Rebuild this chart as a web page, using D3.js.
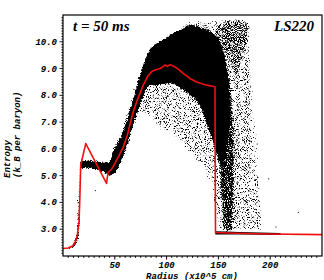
<!DOCTYPE html>
<html>
<head>
<meta charset="utf-8">
<script src="https://cdn.jsdelivr.net/npm/d3@7"></script>
<style>
body { margin: 0; background: #fff; }
</style>
</head>
<body>
<div id="chart"></div>
<script>
// mean entropy profile (red line)
var profR = [0, 5, 9, 11.3, 13.5, 14.5, 15.5, 16.2, 17.1, 22, 42, 43.5, 47, 50, 54, 58, 62, 67.7, 72, 77.4, 82, 85.5, 89, 93.5, 96, 98.4, 101, 103, 105, 108, 112, 116, 122.5, 129, 134, 138.7, 146.7, 147.2, 160, 175, 200, 250];
var profS = [2.28, 2.3, 2.37, 2.47, 2.7, 2.97, 3.3, 4.1, 5.4, 6.2, 4.71, 5.12, 5.25, 5.45, 5.75, 6.05, 6.5, 7.38, 7.85, 8.38, 8.72, 8.88, 8.95, 9.0, 9.05, 9.13, 9.08, 9.14, 9.12, 9.06, 8.95, 8.82, 8.63, 8.5, 8.43, 8.38, 8.32, 2.88, 2.86, 2.84, 2.82, 2.8];

// particle cloud: dense core envelope
var denseR  = [0, 6, 10, 12, 13.5, 14.5, 15.5, 16.5, 17.5, 20, 30, 40, 44, 46, 48, 52, 56, 60, 64, 68, 72, 76, 80, 84, 88, 95, 103, 110, 116, 122, 127, 132, 136, 140, 145, 150, 153, 156, 158, 160, 161.5];
var denseLo = [2.24, 2.27, 2.33, 2.4, 2.5, 2.6, 2.9, 3.6, 5.2, 5.3, 5.25, 5.1, 5.0, 5.0, 5.05, 5.2, 5.5, 5.9, 6.35, 6.9, 7.4, 7.8, 8.2, 8.4, 8.35, 8.4, 8.45, 8.35, 8.2, 8.0, 7.9, 7.6, 7.2, 6.8, 6.2, 5.6, 5.3, 5.5, 6.0, 6.6, 7.3];
var denseHi = [2.31, 2.34, 2.48, 2.65, 3.0, 3.8, 4.8, 5.45, 5.58, 5.58, 5.55, 5.5, 5.5, 5.6, 5.9, 6.2, 6.5, 6.9, 7.4, 7.9, 8.5, 9.0, 9.4, 9.75, 9.9, 10.05, 10.25, 10.4, 10.5, 10.65, 10.62, 10.55, 10.5, 10.45, 10.3, 10.15, 9.9, 9.5, 9.1, 8.4, 7.6];

// particle cloud: column behind the shock
var colR  = [148, 151, 153, 156, 160, 163, 165, 167];
var colLo = [6.0, 4.0, 2.9, 2.86, 2.86, 2.86, 2.9, 4.0];
var colHi = [9.5, 9.8, 9.8, 9.5, 9.0, 8.6, 8.0, 6.5];

// particle cloud: upper right fringe
var fringeR  = [145, 150, 155, 160, 166, 172, 178, 182];
var fringeLo = [10.0, 9.7, 9.4, 9.0, 8.6, 8.8, 9.6, 10.3];
var fringeHi = [10.6, 10.75, 10.85, 10.9, 10.92, 10.92, 10.9, 10.85];

// particle cloud: sparse outer envelope
var sparseR  = [45, 50, 55, 60, 66, 72, 78, 85, 92, 100, 110, 118, 125, 132, 140, 147, 150, 170, 181, 184, 188, 192, 196];
var sparseLo = [5.0, 5.05, 5.4, 5.8, 6.4, 6.9, 7.2, 7.0, 6.6, 6.5, 6.2, 5.8, 5.5, 5.2, 4.5, 3.0, 2.85, 2.85, 2.85, 2.85, 2.85, 2.85, 2.85];
var sparseHi = [5.7, 6.4, 7.0, 7.6, 8.4, 9.0, 9.6, 10.0, 10.2, 10.4, 10.6, 10.8, 10.9, 10.9, 10.9, 10.95, 10.95, 10.95, 10.9, 9.5, 7.5, 5.0, 3.2];

// post-shock thin layer
var tailR  = [147, 170, 210];
var tailLo = [2.8, 2.8, 2.78];
var tailHi = [2.92, 2.9, 2.86];

// isolated particles
var strayR = [30.7, 198, 226.7, 14.2, 187, 205];
var strayS = [4.46, 4.9, 3.65, 3.4, 6.2, 3.1];

var yTicks = [3, 4, 5, 6, 7, 8, 9, 10];
var xTicks = [50, 100, 150, 200];

var W = 324, H = 280;
var margin = {left: 63, top: 15, right: 2, bottom: 24};
var iw = W - margin.left - margin.right,
	ih = H - margin.top - margin.bottom;

var svg = d3.select("#chart")
	.append("svg")
	.attr("width", W)
	.attr("height", H);

var x = d3.scaleLinear().domain([0, 250]).range([0, iw]);
var y = d3.scaleLinear().domain([2, 11]).range([ih, 0]);

var defs = svg.append("defs");
defs.append("clipPath").attr("id", "clip")
	.append("rect").attr("width", iw).attr("height", ih);

// speckle texture: blurred shape + noise, thresholded -> fuzzy grainy edges
function speckle(id, t, seed, blur) {
	var f = defs.append("filter").attr("id", id)
		.attr("color-interpolation-filters", "sRGB")
		.attr("x", "-20%").attr("y", "-20%").attr("width", "140%").attr("height", "140%");
	f.append("feGaussianBlur").attr("in", "SourceAlpha")
		.attr("stdDeviation", blur).attr("result", "b");
	f.append("feTurbulence").attr("type", "fractalNoise")
		.attr("baseFrequency", 1.1).attr("numOctaves", 2)
		.attr("seed", seed).attr("result", "n");
	f.append("feColorMatrix").attr("in", "n").attr("type", "matrix")
		.attr("values", "0 0 0 0 0  0 0 0 0 0  0 0 0 0 0  1 0 0 0 0")
		.attr("result", "na");
	f.append("feComposite").attr("in", "b").attr("in2", "na")
		.attr("operator", "arithmetic")
		.attr("k1", 0).attr("k2", 0.5).attr("k3", 0.5).attr("k4", 0)
		.attr("result", "s");
	var ct = f.append("feComponentTransfer").attr("in", "s");
	ct.append("feFuncA").attr("type", "linear")
		.attr("slope", 16).attr("intercept", -16 * t);
}
speckle("spDense", 0.5, 2, 1.6);
speckle("spCol", 0.67, 5, 2.2);
speckle("spFringe", 0.73, 7, 2.5);
speckle("spSparse", 0.775, 9, 3);

var g = svg.append("g")
	.attr("transform", "translate(" + margin.left + "," + margin.top + ")");
var plot = g.append("g").attr("clip-path", "url(#clip)");

function band(r, lo, hi) {
	var rows = r.map(function(v, i) { return [v, lo[i], hi[i]]; });
	return d3.area()
		.curve(d3.curveMonotoneX)
		.x(function(d) { return x(d[0]); })
		.y0(function(d) { return y(d[1]); })
		.y1(function(d) { return y(d[2]); })(rows);
}

plot.append("path").attr("d", band(sparseR, sparseLo, sparseHi))
	.attr("fill", "#000").attr("filter", "url(#spSparse)");
plot.append("path").attr("d", band(fringeR, fringeLo, fringeHi))
	.attr("fill", "#000").attr("filter", "url(#spFringe)");
plot.append("path").attr("d", band(colR, colLo, colHi))
	.attr("fill", "#000").attr("filter", "url(#spCol)");
plot.append("path").attr("d", band(denseR, denseLo, denseHi))
	.attr("fill", "#000").attr("filter", "url(#spDense)");
plot.append("path").attr("d", band(tailR, tailLo, tailHi))
	.attr("fill", "#000");

plot.selectAll("rect.stray")
	.data(strayR.map(function(v, i) { return [v, strayS[i]]; }))
	.enter().append("rect")
	.attr("class", "stray")
	.attr("x", function(d) { return x(d[0]); })
	.attr("y", function(d) { return y(d[1]); })
	.attr("width", 1).attr("height", 1)
	.attr("fill", "#000");

var line = d3.line()
	.x(function(d) { return x(d[0]); })
	.y(function(d) { return y(d[1]); });
plot.append("path")
	.attr("d", line(profR.map(function(v, i) { return [v, profS[i]]; })))
	.attr("fill", "none")
	.attr("stroke", "#f01010")
	.attr("stroke-width", 1.6)
	.attr("stroke-linejoin", "round");

// frame
g.append("rect").attr("width", iw).attr("height", ih)
	.attr("fill", "none").attr("stroke", "#000").attr("stroke-width", 1.2);

var tickFont = "'Liberation Mono', 'DejaVu Sans Mono', monospace";

// ticks
var xAxis = g.append("g").attr("transform", "translate(0," + ih + ")");
xAxis.selectAll("line.minor").data(d3.range(5, 250, 5)).enter()
	.append("line")
	.attr("x1", function(d) { return x(d); }).attr("x2", function(d) { return x(d); })
	.attr("y1", 0).attr("y2", function(d) { return d % 50 === 0 ? 3.5 : 1.8; })
	.attr("stroke", "#000").attr("stroke-width", 1);
xAxis.selectAll("text").data(xTicks).enter().append("text")
	.attr("x", function(d) { return x(d); })
	.attr("y", 11.5)
	.attr("text-anchor", "middle")
	.style("font-family", tickFont).style("font-weight", "bold").style("font-style", "italic")
	.style("font-size", "9px")
	.text(function(d) { return d; });

var yAxis = g.append("g");
yAxis.selectAll("line.minor").data(d3.range(21, 110, 1)).enter()
	.append("line")
	.attr("x1", 0).attr("x2", function(d) { return d % 10 === 0 ? -3.5 : -1.6; })
	.attr("y1", function(d) { return y(d / 10); }).attr("y2", function(d) { return y(d / 10); })
	.attr("stroke", "#000").attr("stroke-width", 0.9);
yAxis.selectAll("text").data(yTicks).enter().append("text")
	.attr("x", -6)
	.attr("y", function(d) { return y(d) + 3; })
	.attr("text-anchor", "end")
	.style("font-family", tickFont).style("font-weight", "bold").style("font-style", "italic")
	.style("font-size", "9px")
	.text(d3.format(".1f"));

// axis titles
svg.append("text")
	.attr("x", 192).attr("y", 278.5)
	.attr("text-anchor", "middle")
	.style("font-family", tickFont).style("font-weight", "bold").style("font-style", "italic")
	.style("font-size", "9px")
	.text("Radius (x10^5 cm)");
svg.append("text")
	.attr("transform", "translate(10,178) rotate(-90)")
	.style("font-family", tickFont).style("font-weight", "bold").style("font-style", "italic")
	.style("font-size", "9px")
	.text("Entropy");
svg.append("text")
	.attr("transform", "translate(20,178) rotate(-90)")
	.style("font-family", tickFont).style("font-weight", "bold").style("font-style", "italic")
	.style("font-size", "9px")
	.text("(k_B per baryon)");

// annotations
var serif = "'Liberation Serif', 'DejaVu Serif', serif";
g.append("text").attr("x", 10).attr("y", 16)
	.style("font-family", serif).style("font-weight", "bold").style("font-style", "italic")
	.style("font-size", "15px")
	.text("t = 50 ms");
g.append("text").attr("x", iw - 8).attr("y", 16)
	.attr("text-anchor", "end")
	.style("font-family", serif).style("font-weight", "bold").style("font-style", "italic")
	.style("font-size", "15px")
	.text("LS220");
</script>
</body>
</html>
